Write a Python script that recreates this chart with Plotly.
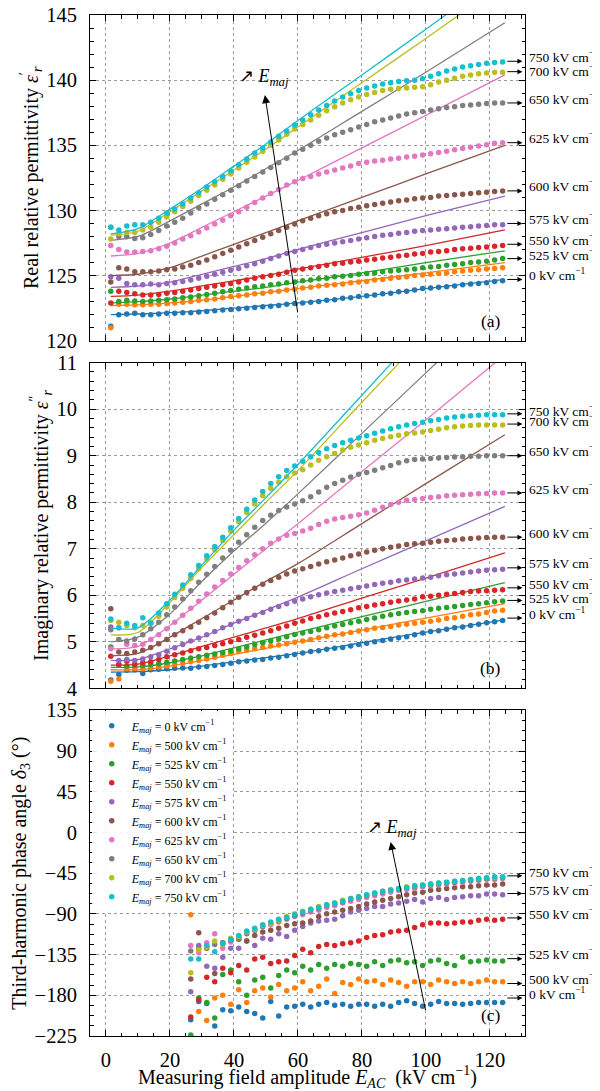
import plotly.graph_objects as go
from plotly.subplots import make_subplots

FONT = "Liberation Serif"
COLORS = ["#1f77b4", "#ff7f0e", "#2ca02c", "#d62728", "#9467bd",
          "#8c564b", "#e377c2", "#7f7f7f", "#bcbd22", "#17becf"]

# major field of each measurement (kV/cm)
E_MAJ = [0, 500, 525, 550, 575, 600, 625, 650, 700, 750]

# measuring field amplitude (kV/cm)
X = [1.5, 4, 6.5, 9, 11.5, 14, 16.5, 19, 21.5, 24, 26.5, 29, 31.5, 34, 36.5, 39, 41.5, 44, 46.5, 49,
     51.5, 54, 56.5, 59, 61.5, 64, 66.5, 69, 71.5, 74, 76.5, 79, 81.5, 84, 86.5, 89, 91.5, 94, 96.5, 99,
     101.5, 104, 106.5, 109, 111.5, 114, 116.5, 119, 121.5, 124]
XC = X[10:]
X_FIT = [1.5, 10, 20, 30, 40, 50, 60, 80, 100, 124.7]

# ---- (a) real permittivity
real_0 = [121.1, 122.0, 122.05, 122.1, 122.0, 122.0, 122.05, 122.1, 122.1, 122.15, 122.15, 122.2, 122.25, 122.3, 122.35,
          122.4, 122.45, 122.5, 122.55, 122.6, 122.65, 122.7, 122.8, 122.85, 122.9, 122.95, 123.0, 123.1, 123.15, 123.25,
          123.3, 123.4, 123.45, 123.5, 123.6, 123.65, 123.75, 123.8, 123.9, 124.0, 124.05, 124.1, 124.15, 124.2, 124.3,
          124.35, 124.4, 124.45, 124.55, 124.6]
real_500 = [121.0, 122.8, 122.8, 122.75, 122.75, 122.8, 122.8, 122.85, 122.9, 122.95, 123.0, 123.1, 123.15, 123.2, 123.3,
            123.4, 123.45, 123.5, 123.6, 123.65, 123.75, 123.8, 123.9, 123.95, 124.05, 124.1, 124.2, 124.25, 124.3, 124.35,
            124.45, 124.5, 124.55, 124.65, 124.7, 124.8, 124.85, 124.9, 125.0, 125.05, 125.1, 125.15, 125.2, 125.3, 125.35,
            125.4, 125.45, 125.5, 125.55, 125.6]
real_525 = [123.8, 123.0, 123.1, 123.05, 123.0, 123.05, 123.1, 123.15, 123.2, 123.3, 123.35, 123.45, 123.55, 123.65, 123.75,
            123.85, 123.95, 124.05, 124.15, 124.2, 124.3, 124.35, 124.45, 124.5, 124.6, 124.65, 124.75, 124.8, 124.9, 124.95,
            125.0, 125.1, 125.15, 125.2, 125.3, 125.35, 125.4, 125.45, 125.5, 125.6, 125.65, 125.7, 125.8, 125.85, 125.9,
            126.0, 126.05, 126.1, 126.2, 126.3]
real_550 = [122.9, 123.8, 123.7, 123.6, 123.5, 123.5, 123.55, 123.65, 123.7, 123.8, 123.9, 124.0, 124.1, 124.2, 124.3,
            124.4, 124.5, 124.65, 124.8, 124.9, 125.0, 125.1, 125.25, 125.4, 125.5, 125.6, 125.7, 125.8, 125.9, 125.95,
            126.05, 126.1, 126.2, 126.25, 126.35, 126.4, 126.5, 126.55, 126.65, 126.7, 126.8, 126.85, 126.9, 127.0, 127.05,
            127.1, 127.15, 127.2, 127.25, 127.3]
real_575 = [124.9, 124.8, 124.4, 124.3, 124.3, 124.35, 124.3, 124.4, 124.45, 124.55, 124.65, 124.8, 124.95, 125.1, 125.25,
            125.4, 125.55, 125.75, 125.9, 126.1, 126.3, 126.5, 126.7, 126.85, 127.0, 127.15, 127.3, 127.4, 127.5, 127.6,
            127.7, 127.8, 127.9, 128.0, 128.1, 128.15, 128.25, 128.3, 128.4, 128.45, 128.5, 128.55, 128.6, 128.65, 128.7,
            128.75, 128.8, 128.85, 128.9, 128.9]
real_600 = [124.5, 125.6, 125.5, 125.3, 125.3, 125.3, 125.35, 125.45, 125.5, 125.65, 125.8, 126.0, 126.2, 126.45, 126.7,
            126.95, 127.2, 127.45, 127.7, 127.95, 128.2, 128.45, 128.7, 128.95, 129.2, 129.4, 129.6, 129.75, 129.9, 130.0,
            130.15, 130.25, 130.35, 130.45, 130.55, 130.65, 130.75, 130.8, 130.9, 130.95, 131.0, 131.1, 131.15, 131.2, 131.25,
            131.3, 131.35, 131.4, 131.45, 131.5]
real_625 = [127.3, 127.0, 126.8, 126.8, 126.85, 126.9, 127.05, 127.25, 127.5, 127.8, 128.05, 128.35, 128.65, 128.95, 129.25,
            129.6, 129.9, 130.25, 130.6, 130.95, 131.3, 131.6, 131.95, 132.2, 132.45, 132.6, 132.8, 132.95, 133.1, 133.25,
            133.4, 133.6, 133.7, 133.8, 133.85, 133.95, 134.0, 134.1, 134.15, 134.25, 134.35, 134.45, 134.55, 134.65, 134.75,
            134.85, 134.95, 135.05, 135.15, 135.2]
real_650 = [128.7, 128.0, 128.0, 127.85, 127.9, 128.15, 128.45, 128.8, 129.1, 129.4, 129.8, 130.2, 130.5, 130.85, 131.2,
            131.55, 131.9, 132.25, 132.6, 132.95, 133.3, 133.65, 134.0, 134.4, 134.7, 135.0, 135.3, 135.55, 135.8, 136.0,
            136.2, 136.4, 136.6, 136.8, 136.95, 137.1, 137.25, 137.4, 137.5, 137.6, 137.7, 137.8, 137.9, 137.95, 138.05,
            138.1, 138.15, 138.2, 138.25, 138.25]
real_700 = [127.8, 128.2, 128.3, 128.3, 128.5, 128.7, 129.1, 129.5, 129.9, 130.3, 130.7, 131.15, 131.55, 131.95, 132.4,
            132.8, 133.25, 133.7, 134.1, 134.55, 135.0, 135.4, 135.85, 136.25, 136.6, 136.95, 137.3, 137.65, 137.95, 138.25,
            138.5, 138.7, 138.9, 139.05, 139.2, 139.3, 139.35, 139.4, 139.45, 139.5, 139.65, 139.85, 140.0, 140.15, 140.3,
            140.4, 140.5, 140.55, 140.6, 140.6]
real_750 = [128.7, 128.5, 128.8, 128.9, 128.9, 129.1, 129.4, 129.8, 130.1, 130.5, 130.95, 131.35, 131.8, 132.2, 132.6,
            133.05, 133.5, 133.95, 134.4, 134.8, 135.25, 135.7, 136.1, 136.55, 136.95, 137.35, 137.7, 138.05, 138.4, 138.7,
            138.95, 139.2, 139.4, 139.55, 139.7, 139.8, 139.9, 139.95, 140.0, 140.1, 140.3, 140.5, 140.7, 140.85, 141.0,
            141.1, 141.2, 141.3, 141.35, 141.4]

real_fit_0 = [122.0, 122.05, 122.15, 122.3, 122.5, 122.7, 122.9, 123.4, 124.0, 124.7]
real_fit_500 = [122.7, 122.75, 122.9, 123.1, 123.4, 123.7, 124.0, 124.6, 125.2, 126.0]
real_fit_525 = [122.9, 123.0, 123.2, 123.5, 123.8, 124.1, 124.5, 125.2, 126.0, 126.9]
real_fit_550 = [123.4, 123.5, 123.8, 124.2, 124.6, 125.0, 125.5, 126.4, 127.3, 128.5]
real_fit_575 = [124.1, 124.2, 124.5, 125.1, 125.7, 126.3, 127.0, 128.3, 129.6, 131.1]
real_fit_600 = [125.0, 125.1, 125.6, 126.5, 127.4, 128.3, 129.2, 131.0, 132.8, 135.0]
real_fit_625 = [126.5, 126.7, 127.5, 128.7, 129.9, 131.1, 132.3, 134.8, 137.3, 140.4]
real_fit_650 = [127.7, 128.0, 129.2, 130.5, 131.8, 133.2, 134.6, 137.6, 140.6, 144.4]
real_fit_700 = [128.1, 128.4, 129.9, 131.5, 133.1, 134.7, 136.4, 139.8, 143.2, 147.5]
real_fit_750 = [128.2, 128.6, 130.1, 131.7, 133.4, 135.1, 136.9, 140.4, 143.9, 148.3]

# ---- (b) imaginary permittivity
imag_0 = [4.18, 4.30, 4.39, 4.40, 4.32, 4.40, 4.41, 4.42, 4.43, 4.44, 4.43, 4.46, 4.47, 4.49, 4.51, 4.54, 4.57, 4.59, 4.61,
          4.62, 4.65, 4.67, 4.70, 4.73, 4.76, 4.79, 4.81, 4.84, 4.86, 4.88, 4.91, 4.94, 4.97, 5.00, 5.03, 5.06, 5.09, 5.11,
          5.15, 5.19, 5.22, 5.24, 5.27, 5.30, 5.32, 5.35, 5.38, 5.41, 5.43, 5.46]
imag_500 = [4.15, 4.20, 4.42, 4.43, 4.42, 4.44, 4.46, 4.48, 4.51, 4.54, 4.57, 4.60, 4.63, 4.67, 4.71, 4.75, 4.79, 4.82, 4.85,
            4.88, 4.91, 4.93, 4.96, 4.99, 5.02, 5.05, 5.09, 5.12, 5.15, 5.17, 5.20, 5.23, 5.26, 5.29, 5.31, 5.33, 5.36, 5.38,
            5.40, 5.42, 5.44, 5.47, 5.50, 5.52, 5.55, 5.58, 5.60, 5.63, 5.66, 5.68]
imag_525 = [4.89, 4.50, 4.48, 4.50, 4.49, 4.51, 4.53, 4.56, 4.59, 4.62, 4.65, 4.68, 4.71, 4.74, 4.77, 4.81, 4.85, 4.89, 4.94,
            4.98, 5.02, 5.06, 5.11, 5.16, 5.19, 5.22, 5.26, 5.30, 5.34, 5.37, 5.41, 5.44, 5.48, 5.51, 5.55, 5.58, 5.61, 5.63,
            5.65, 5.67, 5.70, 5.72, 5.74, 5.76, 5.78, 5.80, 5.82, 5.84, 5.86, 5.88]
imag_550 = [4.69, 4.52, 4.58, 4.52, 4.55, 4.57, 4.62, 4.68, 4.72, 4.76, 4.81, 4.85, 4.88, 4.92, 4.96, 5.00, 5.05, 5.10, 5.14,
            5.19, 5.24, 5.29, 5.34, 5.40, 5.45, 5.50, 5.54, 5.58, 5.62, 5.65, 5.69, 5.73, 5.76, 5.79, 5.82, 5.85, 5.88, 5.90,
            5.92, 5.97, 5.98, 6.00, 6.02, 6.04, 6.06, 6.08, 6.09, 6.10, 6.11, 6.12]
imag_575 = [5.32, 4.60, 4.62, 4.60, 4.63, 4.68, 4.72, 4.80, 4.87, 4.94, 5.02, 5.08, 5.15, 5.22, 5.30, 5.37, 5.44, 5.50, 5.57,
            5.63, 5.70, 5.76, 5.82, 5.87, 5.92, 5.97, 6.01, 6.05, 6.08, 6.11, 6.14, 6.17, 6.20, 6.23, 6.26, 6.28, 6.31, 6.33,
            6.35, 6.37, 6.39, 6.42, 6.44, 6.46, 6.48, 6.50, 6.52, 6.54, 6.55, 6.56]
imag_600 = [5.71, 4.78, 4.75, 4.78, 4.82, 4.88, 4.96, 5.05, 5.15, 5.24, 5.32, 5.42, 5.52, 5.62, 5.73, 5.85, 5.96, 6.06, 6.15,
            6.24, 6.32, 6.39, 6.46, 6.52, 6.57, 6.62, 6.67, 6.72, 6.76, 6.80, 6.85, 6.89, 6.93, 6.97, 7.00, 7.03, 7.06, 7.09,
            7.11, 7.12, 7.14, 7.16, 7.18, 7.19, 7.21, 7.22, 7.23, 7.24, 7.25, 7.25]
imag_625 = [4.85, 5.30, 4.95, 4.92, 4.95, 5.05, 5.15, 5.28, 5.42, 5.57, 5.72, 5.87, 6.03, 6.18, 6.32, 6.46, 6.60, 6.74, 6.87,
            7.00, 7.12, 7.21, 7.29, 7.33, 7.38, 7.44, 7.52, 7.59, 7.64, 7.67, 7.70, 7.73, 7.77, 7.83, 7.89, 7.95, 8.00, 8.04,
            8.06, 8.08, 8.10, 8.12, 8.14, 8.15, 8.16, 8.17, 8.18, 8.19, 8.20, 8.20]
imag_650 = [5.26, 5.05, 5.02, 5.06, 5.15, 5.28, 5.42, 5.58, 5.75, 5.92, 6.10, 6.28, 6.45, 6.62, 6.80, 6.97, 7.14, 7.30, 7.46,
            7.61, 7.72, 7.82, 7.90, 7.96, 8.03, 8.12, 8.22, 8.32, 8.40, 8.47, 8.54, 8.60, 8.64, 8.69, 8.74, 8.79, 8.85, 8.89,
            8.92, 8.93, 8.94, 8.95, 8.96, 8.97, 8.98, 8.99, 8.99, 9.00, 9.00, 9.00]
imag_700 = [5.46, 5.42, 5.35, 5.30, 5.35, 5.42, 5.55, 5.75, 5.95, 6.15, 6.36, 6.57, 6.78, 6.98, 7.18, 7.38, 7.58, 7.78, 7.96,
            8.14, 8.30, 8.43, 8.55, 8.63, 8.70, 8.80, 8.90, 8.98, 9.05, 9.12, 9.18, 9.23, 9.28, 9.33, 9.37, 9.41, 9.44, 9.47,
            9.49, 9.51, 9.54, 9.57, 9.60, 9.62, 9.64, 9.65, 9.66, 9.66, 9.66, 9.66]
imag_750 = [5.49, 5.30, 5.40, 5.35, 5.52, 5.40, 5.62, 5.82, 6.02, 6.22, 6.44, 6.64, 6.85, 7.05, 7.25, 7.45, 7.65, 7.85, 8.05,
            8.23, 8.40, 8.55, 8.68, 8.78, 8.88, 8.98, 9.07, 9.15, 9.22, 9.28, 9.33, 9.38, 9.43, 9.48, 9.53, 9.58, 9.62, 9.66,
            9.69, 9.72, 9.75, 9.78, 9.81, 9.83, 9.85, 9.86, 9.87, 9.88, 9.88, 9.88]

imag_fit_0 = [4.35, 4.36, 4.40, 4.48, 4.57, 4.66, 4.75, 4.98, 5.21, 5.47]
imag_fit_500 = [4.40, 4.40, 4.48, 4.60, 4.73, 4.86, 5.00, 5.25, 5.51, 5.82]
imag_fit_525 = [4.45, 4.46, 4.55, 4.70, 4.87, 5.04, 5.21, 5.54, 5.87, 6.27]
imag_fit_550 = [4.50, 4.52, 4.70, 4.90, 5.10, 5.30, 5.50, 5.94, 6.37, 6.91]
imag_fit_575 = [4.60, 4.62, 4.85, 5.10, 5.40, 5.68, 5.96, 6.57, 7.17, 7.91]
imag_fit_600 = [4.70, 4.75, 5.10, 5.50, 5.90, 6.30, 6.68, 7.54, 8.40, 9.45]
imag_fit_625 = [4.85, 4.90, 5.35, 5.90, 6.45, 7.00, 7.54, 8.66, 9.77, 11.17]
imag_fit_650 = [5.00, 5.10, 5.60, 6.30, 6.95, 7.55, 8.18, 9.48, 10.78, 12.40]
imag_fit_700 = [5.15, 5.20, 5.85, 6.60, 7.30, 8.00, 8.68, 10.15, 11.60, 13.40]
imag_fit_750 = [5.30, 5.30, 5.90, 6.65, 7.40, 8.10, 8.81, 10.30, 11.80, 13.70]

# ---- (c) third-harmonic phase angle (deg)
phase_0 = [-207, -187, -189, -214, -196, -197, -193, -198, -200, -205, -187, -203, -193, -192, -190, -193, -190, -188, -191,
           -190, -192, -190, -190, -192, -190, -192, -188, -186, -189, -192, -190, -187, -189, -189, -190, -189, -188, -188,
           -188, -188]
phase_500 = [-91, -198, -208, -183, -180, -190, -174, -188, -175, -172, -182, -168, -175, -172, -165, -175, -170, -162, -178,
             -166, -168, -162, -165, -164, -168, -163, -166, -170, -165, -165, -168, -163, -165, -167, -165, -167, -165, -163,
             -165, -165]
phase_525 = [-224, -183, -188, -205, -157, -152, -165, -180, -163, -160, -172, -158, -152, -155, -148, -152, -146, -150, -146,
             -148, -145, -146, -148, -143, -147, -142, -141, -144, -143, -147, -142, -141, -145, -147, -138, -143, -142, -141,
             -142, -142]
phase_550 = [-204, -185, -160, -165, -150, -155, -147, -152, -140, -138, -145, -143, -142, -136, -129, -133, -126, -124, -125,
             -123, -122, -120, -116, -114, -113, -110, -109, -108, -105, -102, -100, -100, -101, -100, -99, -99, -97, -96,
             -97, -96]
phase_575 = [-176, -125, -148, -150, -138, -128, -128, -120, -125, -117, -118, -112, -115, -108, -104, -100, -98, -97, -96,
             -92, -88, -86, -84, -82, -82, -79, -78, -76, -74, -77, -73, -72, -74, -72, -71, -70, -70, -68, -68, -69]
phase_600 = [-162, -111, -128, -156, -122, -120, -118, -120, -114, -110, -108, -106, -103, -101, -100, -98, -93, -90, -88,
             -86, -84, -82, -79, -77, -75, -73, -71, -69, -67, -66, -64, -63, -62, -61, -60, -60, -59, -58, -58, -57]
phase_625 = [-125, -133, -122, -112, -128, -121, -116, -111, -108, -104, -102, -99, -96, -93, -91, -88, -86, -83, -81, -78,
             -76, -74, -72, -70, -68, -66, -64, -63, -62, -60, -59, -58, -57, -56, -55, -54, -53, -52, -52, -51]
phase_650 = [-131, -128, -126, -124, -122, -119, -117, -112, -108, -104, -101, -98, -95, -92, -89, -86, -84, -81, -79, -77,
             -74, -72, -70, -68, -66, -64, -63, -61, -60, -59, -58, -57, -56, -55, -54, -53, -52, -51, -51, -50]
phase_700 = [-155, -130, -127, -120, -124, -117, -115, -110, -107, -103, -101, -97, -93, -90, -87, -85, -82, -80, -78, -75,
             -73, -71, -69, -67, -65, -63, -62, -60, -59, -58, -57, -56, -55, -54, -53, -52, -51, -50, -50, -49]
phase_750 = [-140, -140, -125, -132, -123, -118, -114, -109, -106, -102, -99, -96, -94, -91, -88, -85, -83, -80, -78, -76,
             -73, -71, -69, -67, -65, -64, -62, -61, -59, -58, -57, -56, -55, -54, -53, -52, -51, -50, -49, -49]

real_pts = [real_0, real_500, real_525, real_550, real_575, real_600, real_625, real_650, real_700, real_750]
real_fit = [real_fit_0, real_fit_500, real_fit_525, real_fit_550, real_fit_575, real_fit_600, real_fit_625,
            real_fit_650, real_fit_700, real_fit_750]
imag_pts = [imag_0, imag_500, imag_525, imag_550, imag_575, imag_600, imag_625, imag_650, imag_700, imag_750]
imag_fit = [imag_fit_0, imag_fit_500, imag_fit_525, imag_fit_550, imag_fit_575, imag_fit_600, imag_fit_625,
            imag_fit_650, imag_fit_700, imag_fit_750]
phase_pts = [phase_0, phase_500, phase_525, phase_550, phase_575, phase_600, phase_625, phase_650, phase_700, phase_750]

# right-hand labels: text, where the arrow points, where the text sits
REAL_LABELS = ["750", "700", "650", "625", "600", "575", "550", "525", "0"]
REAL_ARROW_Y = [141.45, 140.65, 138.25, 135.2, 131.5, 129.0, 127.4, 126.3, 124.7]
REAL_TEXT_Y = [141.85, 140.75, 138.6, 135.6, 131.9, 129.35, 127.75, 126.6, 125.1]
IMAG_LABELS = ["750", "700", "650", "625", "600", "575", "550", "525", "0"]
IMAG_ARROW_Y = [9.9, 9.68, 9.0, 8.2, 7.25, 6.59, 6.16, 5.89, 5.51]
IMAG_TEXT_Y = [9.98, 9.76, 9.11, 8.3, 7.36, 6.7, 6.26, 5.96, 5.61]
PHASE_LABELS = ["750", "575", "550", "525", "500", "0"]
PHASE_ARROW_Y = [-48, -67.5, -94.5, -139.5, -167, -183]
PHASE_TEXT_Y = [-43.5, -63, -89.5, -134, -161.5, -178]

fig = make_subplots(rows=3, cols=1, shared_xaxes=True, vertical_spacing=0.0215)

for i, e in enumerate(E_MAJ):
    c = COLORS[i]
    fig.add_trace(go.Scatter(x=X, y=real_pts[i], mode="markers", marker=dict(color=c, size=5.5),
                             showlegend=False), row=1, col=1)
    fig.add_trace(go.Scatter(x=X_FIT, y=real_fit[i], mode="lines",
                             line=dict(color=c, width=1.3, shape="spline", smoothing=0.8),
                             showlegend=False), row=1, col=1)
    fig.add_trace(go.Scatter(x=X, y=imag_pts[i], mode="markers", marker=dict(color=c, size=5.5),
                             showlegend=False), row=2, col=1)
    fig.add_trace(go.Scatter(x=X_FIT, y=imag_fit[i], mode="lines",
                             line=dict(color=c, width=1.3, shape="spline", smoothing=0.8),
                             showlegend=False), row=2, col=1)
    fig.add_trace(go.Scatter(x=XC, y=phase_pts[i], mode="markers", marker=dict(color=c, size=5.5),
                             name=f"<i>E<sub>maj</sub></i> = {e} kV cm<sup>−1</sup>"), row=3, col=1)

axis_style = dict(showline=True, linecolor="black", linewidth=1, mirror="ticks",
                  ticks="inside", ticklen=6, tickwidth=1, tickcolor="black",
                  showgrid=True, gridcolor="#9a9a9a", griddash="dot", gridwidth=0.8,
                  zeroline=False, automargin=False, ticklabeloverflow="allow",
                  ticklabelstandoff=8,
                  tickfont=dict(family=FONT, size=20.5, color="black"))

for r in (1, 2, 3):
    fig.update_xaxes(axis_style, range=[-5, 131], dtick=20, tick0=0,
                     minor=dict(ticks="inside", ticklen=3.5, tickcolor="black", dtick=5, tick0=0),
                     row=r, col=1)

fig.update_xaxes(title=dict(text="Measuring field amplitude <i>E<sub>AC</sub></i> &nbsp;(kV cm<sup>−1</sup>)",
                            font=dict(family=FONT, size=20, color="black"), standoff=6),
                 ticklabelstandoff=5, row=3, col=1)

fig.update_yaxes(axis_style, range=[120, 145], dtick=5, tick0=120,
                 minor=dict(ticks="inside", ticklen=3.5, tickcolor="black", dtick=1),
                 title=dict(text="Real relative permittivity <i>ε</i><sup>′</sup><sub><i>r</i></sub>",
                            font=dict(family=FONT, size=20, color="black"), standoff=2),
                 row=1, col=1)
fig.update_yaxes(axis_style, range=[4, 11], dtick=1, tick0=4,
                 minor=dict(ticks="inside", ticklen=3.5, tickcolor="black", dtick=0.2),
                 title=dict(text="Imaginary relative permittivity <i>ε</i><sup>″</sup><sub><i>r</i></sub>",
                            font=dict(family=FONT, size=20, color="black"), standoff=2),
                 row=2, col=1)
fig.update_yaxes(axis_style, range=[-225, 135], dtick=45, tick0=0,
                 minor=dict(ticks="inside", ticklen=3.5, tickcolor="black", dtick=11.25, tick0=0),
                 title=dict(text="Third-harmonic phase angle <i>δ</i><sub>3</sub> (°)",
                            font=dict(family=FONT, size=20, color="black"), standoff=2),
                 row=3, col=1)

# arrows + labels on the right of every panel
panels = [("x", "y", REAL_LABELS, REAL_ARROW_Y, REAL_TEXT_Y),
          ("x2", "y2", IMAG_LABELS, IMAG_ARROW_Y, IMAG_TEXT_Y),
          ("x3", "y3", PHASE_LABELS, PHASE_ARROW_Y, PHASE_TEXT_Y)]
for xr, yr, labels, arrow_y, text_y in panels:
    for lab, ya, yt in zip(labels, arrow_y, text_y):
        fig.add_annotation(x=130.2, y=ya, ax=125.0, ay=ya, xref=xr, yref=yr, axref=xr, ayref=yr,
                           text="", showarrow=True, arrowhead=2, arrowsize=1, arrowwidth=1,
                           arrowcolor="black")
        fig.add_annotation(x=1.004, y=yt, xref="paper", yref=yr, xanchor="left", yanchor="middle",
                           text=f"{lab} kV cm<sup>−1</sup>", showarrow=False,
                           font=dict(family=FONT, size=13.5, color="black"))

# big "increasing E_maj" arrows
fig.add_annotation(x=49.7, y=138.85, ax=60, ay=122.05, xref="x", yref="y", axref="x", ayref="y",
                   text="", showarrow=True, arrowhead=2, arrowsize=1.6, arrowwidth=1, arrowcolor="black")
fig.add_annotation(x=49.4, y=140.2, xref="x", yref="y", text="↗ <i>E<sub>maj</sub></i>", showarrow=False,
                   font=dict(family=FONT, size=18, color="black"))
fig.add_annotation(x=89, y=-10.5, ax=100, ay=-198, xref="x3", yref="y3", axref="x3", ayref="y3",
                   text="", showarrow=True, arrowhead=2, arrowsize=1.6, arrowwidth=1, arrowcolor="black")
fig.add_annotation(x=89.4, y=4.3, xref="x3", yref="y3", text="↗ <i>E<sub>maj</sub></i>", showarrow=False,
                   font=dict(family=FONT, size=18, color="black"))

# panel letters
for xr, yr, letter, yv in [("x", "y", "(a)", 121.5), ("x2", "y2", "(b)", 4.43), ("x3", "y3", "(c)", -202)]:
    fig.add_annotation(x=120.3, y=yv, xref=xr, yref=yr, text=letter, showarrow=False,
                       font=dict(family=FONT, size=17.5, color="black"))

# the page body adds an 8px offset, so the figure is 8px smaller to keep the same frame
fig.update_layout(
    width=592, height=1083,
    margin=dict(l=82, r=75, t=7, b=55),
    paper_bgcolor="white", plot_bgcolor="white",
    font=dict(family=FONT, color="black"),
    legend=dict(x=0.004, y=0.318, xanchor="left", yanchor="top",
                bgcolor="rgba(255,255,255,0.9)", borderwidth=0,
                font=dict(family=FONT, size=12, color="black"),
                itemwidth=30, tracegroupgap=0),
)

fig.write_html("out.html")
